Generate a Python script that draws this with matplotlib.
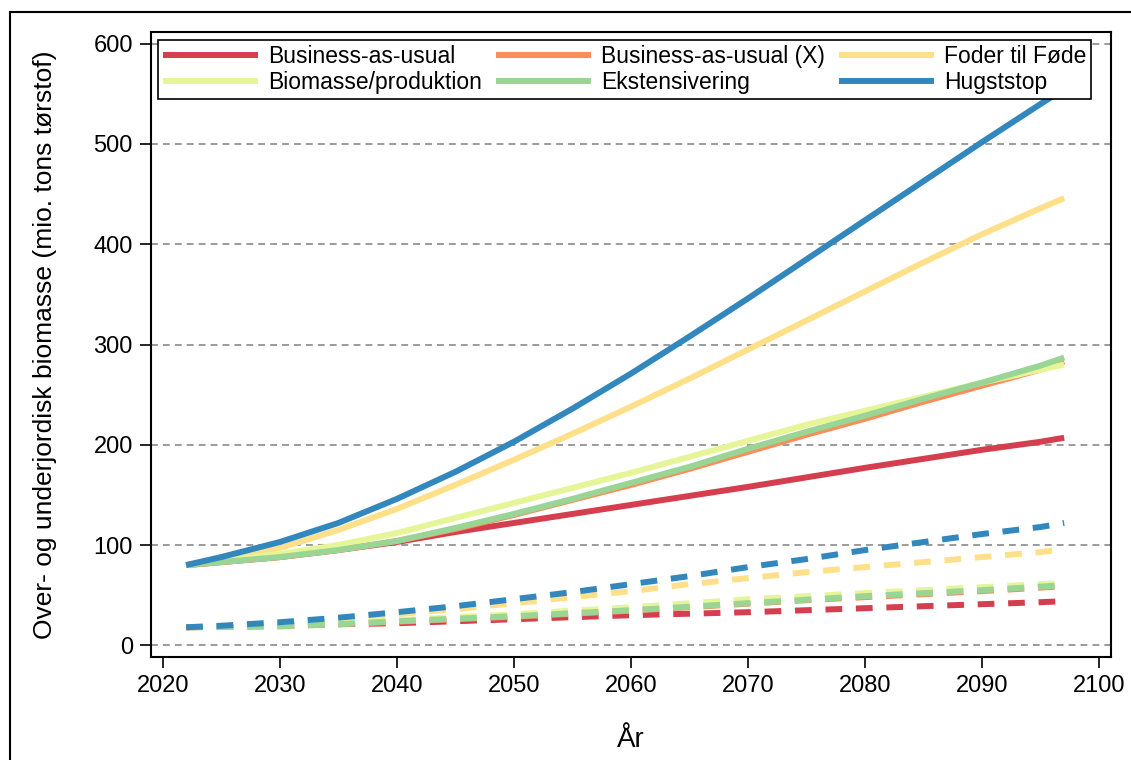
import matplotlib.pyplot as plt
from matplotlib.lines import Line2D
import numpy as np

plt.rcParams['font.family'] = ['Liberation Sans', 'DejaVu Sans']

years = [2022, 2025, 2030, 2035, 2040, 2045, 2050, 2055, 2060, 2065,
         2070, 2075, 2080, 2085, 2090, 2095, 2097]

names = ["Business-as-usual", "Business-as-usual (X)", "Foder til Føde",
         "Biomasse/produktion", "Ekstensivering", "Hugststop"]
colors = ["#d53e4f", "#fc8d59", "#fee08b", "#e6f598", "#99d594", "#3288bd"]

# total biomass (solid)
bau = [80, 83, 88, 95, 103, 113, 122, 131, 140, 149, 158, 167.5, 177, 186, 195, 203, 207]
bau_x = [80, 83, 88, 95, 104, 116, 130, 145, 160, 176, 193, 210, 226, 243, 259, 275, 283]
foder = [80, 86, 97, 115, 136, 160, 185, 211, 238, 266, 295, 324, 353, 382, 410, 436, 446]
biomasse = [80, 84, 91, 100, 112, 127, 142, 157, 172, 188, 204, 220, 234, 248, 262, 275, 280]
ekstens = [80, 83, 88, 95, 104, 117, 131, 146, 162, 178, 196, 213, 229, 246, 262, 279, 287]
hugst = [80, 88, 103, 122, 146, 173, 203, 236, 271, 308, 346, 385, 424, 463, 502, 540, 555]

# second component (dashed)
bau_d = [18, 18.5, 20, 21, 22, 24, 26, 28, 30, 31.5, 33, 35, 37, 39, 41, 43, 44]
bau_x_d = [18, 18.2, 19, 21, 23.5, 26, 28.5, 31.5, 34.5, 38, 41.5, 45, 48, 51, 54, 57.5, 59]
foder_d = [18, 19, 22, 26, 31, 36, 42, 48, 54, 61, 67, 73, 78, 83, 88, 93, 96]
biomasse_d = [18, 18.5, 20, 22.5, 25, 28, 31, 34.5, 38, 42, 46, 49, 52, 55, 58, 61, 62]
ekstens_d = [18, 18.3, 19, 21, 24, 26.5, 29, 32, 35, 38.5, 42, 45.5, 49, 52, 55, 58.5, 60]
hugst_d = [18, 19.5, 23, 27.5, 33, 39, 46, 53, 61, 69, 78, 86, 95, 103, 111, 118, 122]

solid = [bau, bau_x, foder, biomasse, ekstens, hugst]
dashed = [bau_d, bau_x_d, foder_d, biomasse_d, ekstens_d, hugst_d]

fig = plt.figure(figsize=(11.31, 7.6), dpi=100)
ax = fig.add_axes([0.1335, 0.1351, 0.8488, 0.8232])

lw = 4.3
handles = []
for i in range(6):
    h, = ax.plot(years, solid[i], color=colors[i], lw=lw, solid_capstyle='butt',
                 solid_joinstyle='round', label=names[i], zorder=3)
    ax.plot(years, dashed[i], color=colors[i], lw=lw, linestyle=(0, (2.8, 2.3)),
            dash_capstyle='butt', zorder=3)
    handles.append(h)

ax.set_xlim(2019, 2101)
ax.set_ylim(-12, 612)
ax.set_xticks(np.arange(2020, 2101, 10))
ax.set_yticks(np.arange(0, 601, 100))
ax.yaxis.grid(True, color='#808080', lw=1.1, linestyle=(0, (4.5, 3.3)), zorder=1)
ax.set_axisbelow(True)

for s in ax.spines.values():
    s.set_linewidth(1.5)
ax.tick_params(direction='out', length=8, width=1.2, labelsize=17, pad=5)

ax.set_xlabel("År", fontsize=20, labelpad=21)
ax.set_ylabel("Over- og underjordisk biomasse (mio. tons tørstof)", fontsize=19, labelpad=26)

# legend filled row by row
order = [0, 3, 1, 4, 2, 5]
leg = ax.legend([handles[k] for k in order], [names[k] for k in order],
                ncol=3, loc='upper left', bbox_to_anchor=(0.0073, 0.9867),
                borderaxespad=0, fontsize=16.5, handlelength=4.15, handletextpad=0.45,
                columnspacing=0.6, labelspacing=0.15, borderpad=0.2,
                fancybox=False, edgecolor='black', framealpha=1)
leg.get_frame().set_linewidth(1.2)

# outer frame
fig.add_artist(Line2D([10 / 1131, 10 / 1131], [0, 1 - 12 / 760], color='black', lw=1.5))
fig.add_artist(Line2D([10 / 1131, 1], [1 - 12 / 760, 1 - 12 / 760], color='black', lw=1.5))

fig.savefig("out.png", dpi=100)
